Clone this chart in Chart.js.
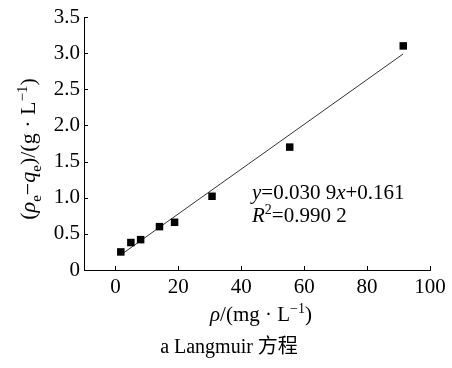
<!DOCTYPE html>
<html>
<head>
<meta charset="utf-8">
<script src="https://cdn.jsdelivr.net/npm/chart.js@4.4.0/dist/chart.umd.min.js"></script>
<style>
  html, body { margin: 0; padding: 0; background: #fff; }
  #wrap { width: 452px; height: 368px; }
</style>
</head>
<body>
<div id="wrap"><canvas id="langmuirChart" width="452" height="368"></canvas></div>
<script>
// Langmuir isotherm fit
const rhoValues = [1.7, 4.9, 8.0, 14.0, 18.8, 30.7, 55.4, 91.5];
const ratioValues = [0.25, 0.38, 0.42, 0.60, 0.66, 1.02, 1.70, 3.10];
const fitX = [1.7, 91.5];
const fitY = [0.21, 2.99];
const xTicks = [0, 20, 40, 60, 80, 100];
const yTicks = [0, 0.5, 1.0, 1.5, 2.0, 2.5, 3.0, 3.5];

const SERIF = '"Liberation Serif", "Times New Roman", serif';
const CJK = '"Noto Sans CJK SC"';

// draws a list of text pieces: {t, i (italic), p ('sub'|'sup')}
function drawRich(ctx, parts, x, y, size, align) {
    const small = Math.round(size * 0.68);
    const fontOf = p => (p.i ? 'italic ' : '') + (p.p ? small : size) + 'px ' + SERIF + ', ' + CJK;
    let total = 0;
    parts.forEach(p => { ctx.font = fontOf(p); total += ctx.measureText(p.t).width; });
    let cx = align === 'center' ? x - total / 2 : x;
    ctx.textAlign = 'left';
    ctx.textBaseline = 'alphabetic';
    parts.forEach(p => {
        ctx.font = fontOf(p);
        let dy = 0;
        if (p.p === 'sub') dy = size * 0.28;
        if (p.p === 'sup') dy = -size * 0.38;
        ctx.fillText(p.t, cx, y + dy);
        cx += ctx.measureText(p.t).width;
    });
}

const decorPlugin = {
    id: 'decor',
    afterDraw(chart) {
        const ctx = chart.ctx;
        const xs = chart.scales.x, ys = chart.scales.y;
        const area = chart.chartArea;
        ctx.save();
        ctx.strokeStyle = '#000';
        ctx.lineWidth = 1;
        // inward ticks
        ctx.beginPath();
        xTicks.forEach(v => {
            const px = Math.round(xs.getPixelForValue(v)) + 0.5;
            ctx.moveTo(px, area.bottom);
            ctx.lineTo(px, area.bottom - 4);
        });
        yTicks.forEach(v => {
            const py = Math.round(ys.getPixelForValue(v)) + 0.5;
            ctx.moveTo(area.left, py);
            ctx.lineTo(area.left + 4, py);
        });
        ctx.stroke();

        ctx.fillStyle = '#000';
        // fit equation
        drawRich(ctx, [{t: 'y', i: true}, {t: '=0.030 9'}, {t: 'x', i: true}, {t: '+0.161'}],
            252, 199, 21, 'left');
        drawRich(ctx, [{t: 'R', i: true}, {t: '2', p: 'sup'}, {t: '=0.990 2'}],
            252, 222, 21, 'left');

        // x title
        drawRich(ctx, [{t: 'ρ', i: true}, {t: '/(mg · L'}, {t: '−1', p: 'sup'}, {t: ')'}],
            261, 321, 21, 'center');

        // y title (rotated)
        ctx.save();
        ctx.translate(35, 149);
        ctx.rotate(-Math.PI / 2);
        drawRich(ctx, [{t: '(', }, {t: 'ρ', i: true}, {t: 'e', p: 'sub'}, {t: '−'}, {t: 'q', i: true},
            {t: 'e', p: 'sub'}, {t: ')/(g · L'}, {t: '−1', p: 'sup'}, {t: ')'}], 0, 0, 22, 'center');
        ctx.restore();

        // caption
        drawRich(ctx, [{t: 'a Langmuir 方程'}], 229, 353, 20, 'center');
        ctx.restore();
    }
};

const ctx = document.getElementById('langmuirChart').getContext('2d');
new Chart(ctx, {
    type: 'scatter',
    data: {
        datasets: [
            {
                label: 'data',
                data: rhoValues.map((x, i) => ({x, y: ratioValues[i]})),
                backgroundColor: '#000',
                borderColor: '#000',
                pointStyle: 'rect',
                pointRadius: 5.3,
                borderWidth: 0
            },
            {
                label: 'fit',
                type: 'line',
                data: fitX.map((x, i) => ({x, y: fitY[i]})),
                borderColor: '#333',
                borderWidth: 1,
                pointRadius: 0,
                fill: false
            }
        ]
    },
    options: {
        responsive: false,
        animation: false,
        layout: { padding: { left: 0, right: 22, top: 17, bottom: 0 } },
        plugins: { legend: { display: false }, tooltip: { enabled: false } },
        scales: {
            x: {
                type: 'linear',
                min: -10, max: 100,
                afterBuildTicks: s => { s.ticks = xTicks.map(v => ({value: v})); },
                afterFit: s => { s.height = 98; },
                grid: { drawOnChartArea: false, drawTicks: false },
                border: { color: '#000', width: 1 },
                ticks: { color: '#000', padding: 5, maxRotation: 0, font: { family: SERIF, size: 21 } }
            },
            y: {
                type: 'linear',
                min: 0, max: 3.5,
                afterBuildTicks: s => { s.ticks = yTicks.map(v => ({value: v})); },
                afterFit: s => { s.width = 84; },
                grid: { drawOnChartArea: false, drawTicks: false },
                border: { color: '#000', width: 1 },
                ticks: {
                    color: '#000', padding: 4, font: { family: SERIF, size: 21 },
                    callback: v => v === 0 ? '0' : v.toFixed(1)
                }
            }
        }
    },
    plugins: [decorPlugin]
});
</script>
</body>
</html>
